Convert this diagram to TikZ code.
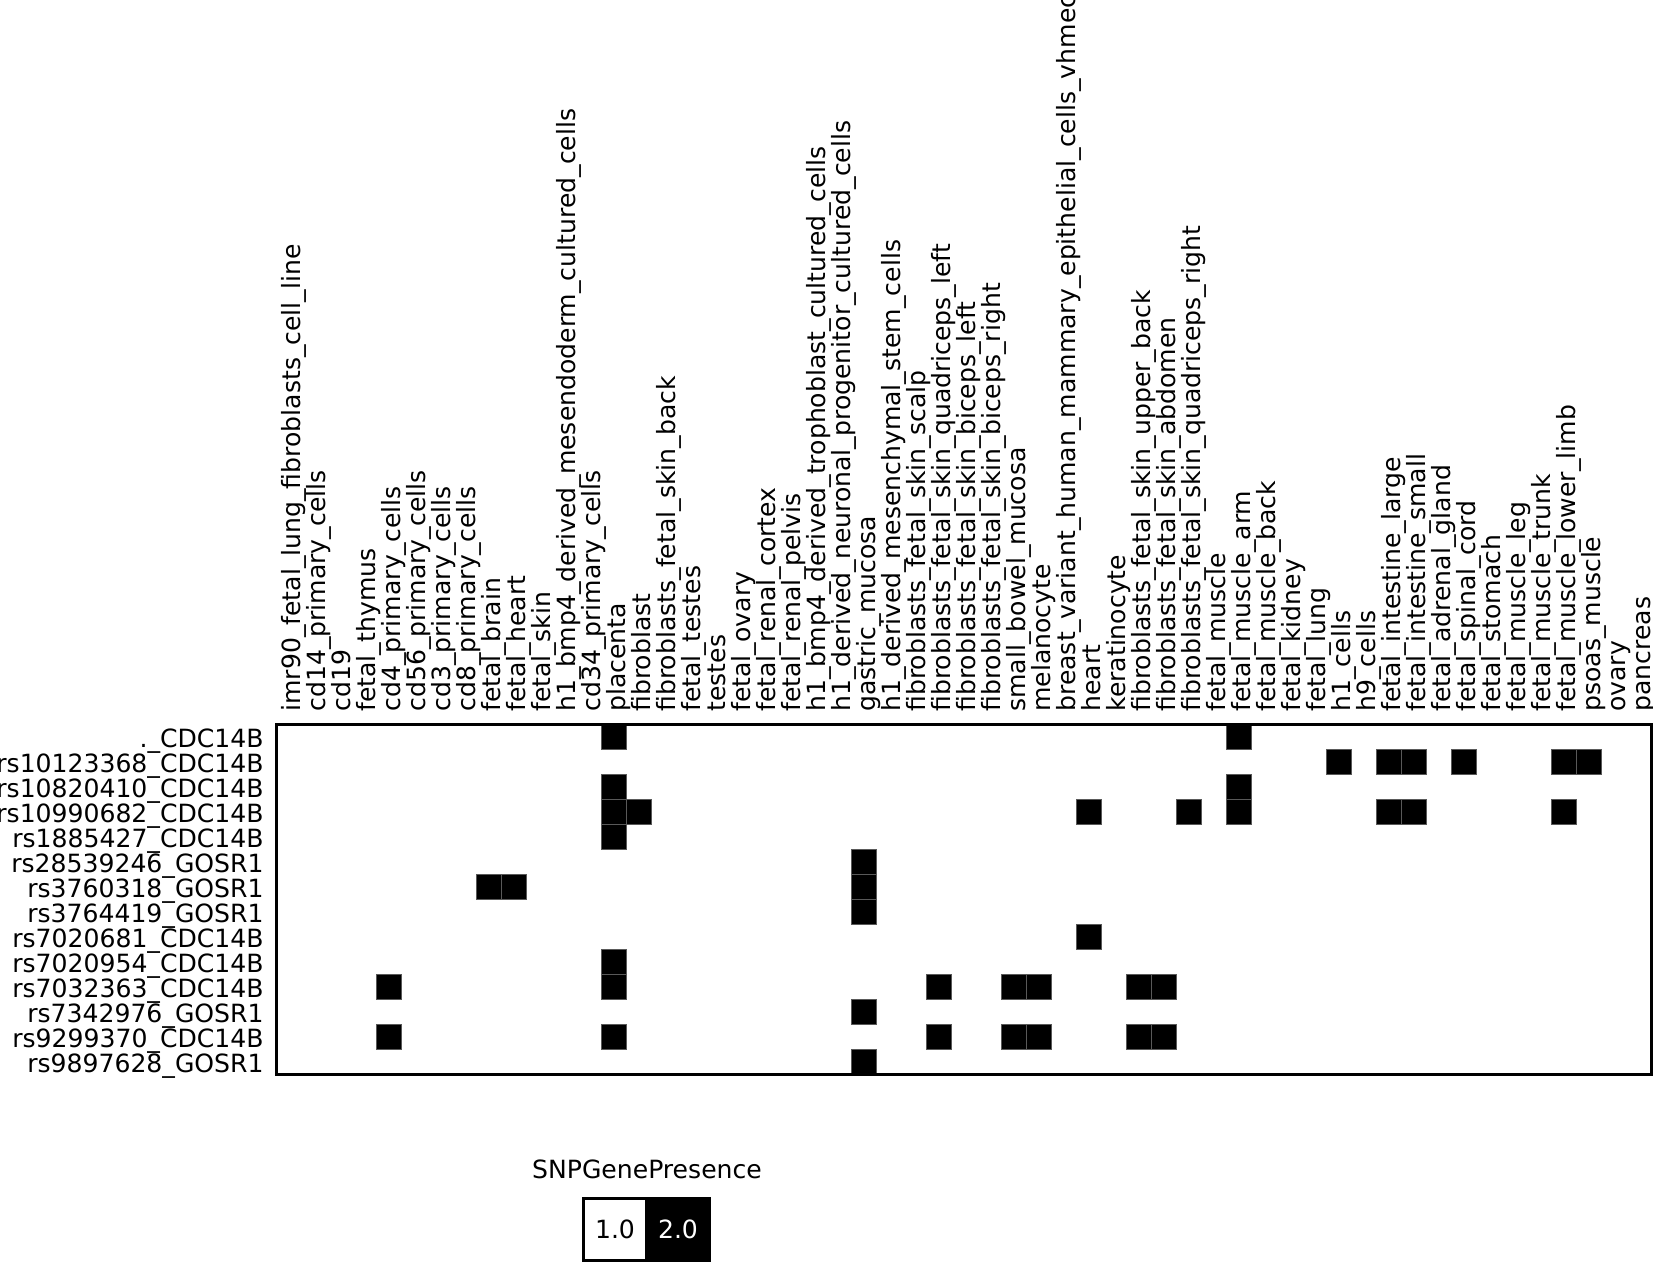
\documentclass[tikz,border=0pt]{standalone}
\usepackage{fontspec}
\setmainfont{DejaVu Sans}
\begin{document}
\begin{tikzpicture}[x=0.5pt,y=-0.5pt,
  every node/.style={font=\fontsize{12.55}{14}\selectfont},
  rowlab/.style={anchor=base east, inner sep=0pt},
  collab/.style={anchor=base west, rotate=90, inner sep=0pt},
  hit/.style={fill=black, draw=black!65, line width=0.5pt},
  frame/.style={draw=black, line width=1.5pt},
  legbox/.style={draw=black, line width=1pt, minimum width=31pt, minimum height=30.5pt, inner sep=0pt, anchor=center}]
\useasboundingbox (0,0) rectangle (1653,1264);
\clip (0,0) rectangle (1653,1264);
% column labels
\foreach \t [count=\i] in {
imr90\_fetal\_lung\_fibroblasts\_cell\_line, cd14\_primary\_cells, cd19, fetal\_thymus,
cd4\_primary\_cells, cd56\_primary\_cells, cd3\_primary\_cells, cd8\_primary\_cells,
fetal\_brain, fetal\_heart, fetal\_skin, h1\_bmp4\_derived\_mesendoderm\_cultured\_cells,
cd34\_primary\_cells, placenta, fibroblast, fibroblasts\_fetal\_skin\_back, fetal\_testes,
testes, fetal\_ovary, fetal\_renal\_cortex, fetal\_renal\_pelvis,
h1\_bmp4\_derived\_trophoblast\_cultured\_cells, h1\_derived\_neuronal\_progenitor\_cultured\_cells,
gastric\_mucosa, h1\_derived\_mesenchymal\_stem\_cells, fibroblasts\_fetal\_skin\_scalp,
fibroblasts\_fetal\_skin\_quadriceps\_left, fibroblasts\_fetal\_skin\_biceps\_left,
fibroblasts\_fetal\_skin\_biceps\_right, small\_bowel\_mucosa, melanocyte,
breast\_variant\_human\_mammary\_epithelial\_cells\_vhmec, heart, keratinocyte,
fibroblasts\_fetal\_skin\_upper\_back, fibroblasts\_fetal\_skin\_abdomen,
fibroblasts\_fetal\_skin\_quadriceps\_right, fetal\_muscle, fetal\_muscle\_arm,
fetal\_muscle\_back, fetal\_kidney, fetal\_lung, h1\_cells, h9\_cells,
fetal\_intestine\_large, fetal\_intestine\_small, fetal\_adrenal\_gland, fetal\_spinal\_cord,
fetal\_stomach, fetal\_muscle\_leg, fetal\_muscle\_trunk, fetal\_muscle\_lower\_limb,
psoas\_muscle, ovary, pancreas}
  \node[collab] (c\i) at ({276+(\i-0.5)*25+11.5},712) {\t};
% row labels
\foreach \t [count=\j] in {
.\_CDC14B, rs10123368\_CDC14B, rs10820410\_CDC14B, rs10990682\_CDC14B, rs1885427\_CDC14B,
rs28539246\_GOSR1, rs3760318\_GOSR1, rs3764419\_GOSR1, rs7020681\_CDC14B, rs7020954\_CDC14B,
rs7032363\_CDC14B, rs7342976\_GOSR1, rs9299370\_CDC14B, rs9897628\_GOSR1}
  \node[rowlab] (r\j) at (264,{724+(\j-0.5)*25+10.8}) {\t};
% present cells
\foreach \c/\r in {14/1, 39/1, 43/2, 45/2, 46/2, 48/2, 52/2, 53/2, 14/3, 39/3,
  14/4, 15/4, 33/4, 37/4, 39/4, 45/4, 46/4, 52/4, 14/5, 24/6, 9/7, 10/7, 24/7, 24/8,
  33/9, 14/10, 5/11, 14/11, 27/11, 30/11, 31/11, 35/11, 36/11, 24/12,
  5/13, 14/13, 27/13, 30/13, 31/13, 35/13, 36/13, 24/14}
  \draw[hit] ({276+(\c-1)*25},{724+(\r-1)*25}) rectangle ++(25,25);
% heatmap frame
\draw[frame] (276,724) rectangle (1651,1074);
% legend
\node[anchor=base] (ttl) at (647,1178) {SNPGenePresence};
\node[legbox, fill=white] (l1) at (615,1229.5) {1.0};
\node[legbox, fill=black, text=white] (l2) at (678,1229.5) {2.0};
\draw[line width=1pt] (l1.north west) rectangle (l2.south east);
\end{tikzpicture}
\end{document}
